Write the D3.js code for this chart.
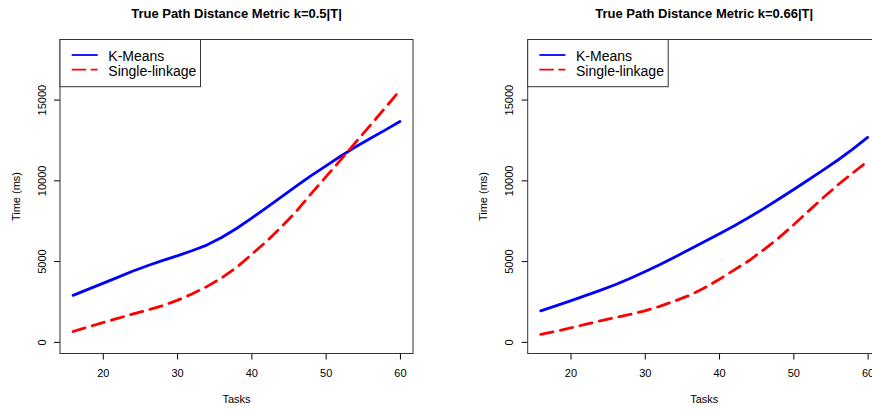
<!DOCTYPE html>
<html>
<head>
<meta charset="utf-8">
<script src="https://cdn.jsdelivr.net/npm/d3@7"></script>
<style>
	body{margin:0;background:#fff}
	svg{display:block;font-family:"Liberation Sans",Arial,sans-serif}
	.tick line{stroke:#000}
	.tick text{font-size:11px;fill:#000;font-family:"Liberation Sans",Arial,sans-serif}
</style>
</head>
<body>
<script>
// data
var tasks      = [16,18,20,22,24,26,28,30,32,34,36,38,40,42,44,46,48,50,52,54,56,58,60]
var kmeans05   = [2880,3250,3620,3990,4370,4710,5030,5320,5640,5990,6460,7020,7650,8300,8960,9620,10280,10880,11490,12060,12590,13110,13640]
var single05   = [640,920,1190,1450,1720,1970,2230,2570,2960,3420,3960,4600,5400,6200,7100,8050,9150,10200,11250,12330,13400,14480,15570]
var kmeans066  = [1920,2230,2540,2860,3190,3540,3920,4340,4780,5240,5720,6200,6680,7180,7700,8250,8830,9420,10020,10630,11260,11930,12660]
var single066  = [460,650,860,1080,1300,1500,1700,1920,2200,2520,2880,3330,3860,4440,5020,5700,6420,7230,8080,8920,9720,10460,11180]
var titles     = ['True Path Distance Metric k=0.5|T|','True Path Distance Metric k=0.66|T|']
var seriesName = ['K-Means','Single-linkage']
var xTicks     = [20,30,40,50,60]
var yTicks     = [0,5000,10000,15000]

var W = 872, H = 409
var svg = d3.select('body').append('svg').attr('width',W).attr('height',H)
svg.append('rect').attr('width',W).attr('height',H).attr('fill','#fff')

var plotW = 353, plotTop = 39.5, plotBottom = 353.5

function panel(left,title,km,sl){
	var g = svg.append('g')
	var x = d3.scaleLinear().domain([14.24,61.76]).range([left,left+plotW])
	var y = d3.scaleLinear().domain([-720,18720]).range([plotBottom,plotTop])

	var xa = g.append('g').attr('transform','translate(0,'+plotBottom+')')
		.call(d3.axisBottom(x).tickValues(xTicks).tickSize(6).tickFormat(d3.format('d')))
	xa.select('.domain').remove()
	xa.selectAll('text').attr('y',23.2).attr('dy',null)

	var ya = g.append('g').attr('transform','translate('+left+',0)')
		.call(d3.axisLeft(y).tickValues(yTicks).tickSize(6).tickFormat(d3.format('d')))
	ya.select('.domain').remove()
	ya.selectAll('text').attr('transform','rotate(-90)')
		.attr('x',0).attr('y',-14.3).attr('dy',null).attr('text-anchor','middle')

	var line = d3.line()
		.x(function(d,i){return x(tasks[i])})
		.y(function(d){return y(d)})

	g.append('path').datum(km).attr('d',line)
		.attr('fill','none').attr('stroke','#0000ff').attr('stroke-width',2.8)
		.attr('stroke-linejoin','round').attr('stroke-linecap','round')
	g.append('path').datum(sl).attr('d',line)
		.attr('fill','none').attr('stroke','#ff0000').attr('stroke-width',2.8)
		.attr('stroke-dasharray','12.5,7.5')
		.attr('stroke-linejoin','round').attr('stroke-linecap','round')

	// box
	g.append('rect').attr('x',left).attr('y',plotTop).attr('width',plotW).attr('height',plotBottom-plotTop)
		.attr('fill','none').attr('stroke','#333').attr('stroke-width',1)

	// titles
	g.append('text').text(title).attr('x',left+plotW/2).attr('y',18)
		.attr('text-anchor','middle').attr('font-size','13px').attr('font-weight','bold')
	g.append('text').text('Tasks').attr('x',left+plotW/2).attr('y',403)
		.attr('text-anchor','middle').attr('font-size','11px')
	g.append('text').text('Time (ms)')
		.attr('transform','translate('+(left-40.5)+','+((plotTop+plotBottom)/2)+') rotate(-90)')
		.attr('text-anchor','middle').attr('font-size','11px')

	// legend
	var lg = g.append('g')
	lg.append('rect').attr('x',left).attr('y',plotTop).attr('width',140.5).attr('height',47.2)
		.attr('fill','#fff').attr('stroke','#333').attr('stroke-width',1)
	lg.append('line').attr('x1',left+11.7).attr('x2',left+37.7).attr('y1',55).attr('y2',55)
		.attr('stroke','#0000ff').attr('stroke-width',1.8)
	lg.append('line').attr('x1',left+11.7).attr('x2',left+37.7).attr('y1',69.7).attr('y2',69.7)
		.attr('stroke','#ff0000').attr('stroke-width',1.8).attr('stroke-dasharray','14.5,4.5')
	lg.append('text').text(seriesName[0]).attr('x',left+48.3).attr('y',61).attr('font-size','14px')
	lg.append('text').text(seriesName[1]).attr('x',left+48.3).attr('y',75.7).attr('font-size','14px')
}

panel(60,titles[0],kmeans05,single05)
panel(527.7,titles[1],kmeans066,single066)
</script>
</body>
</html>
